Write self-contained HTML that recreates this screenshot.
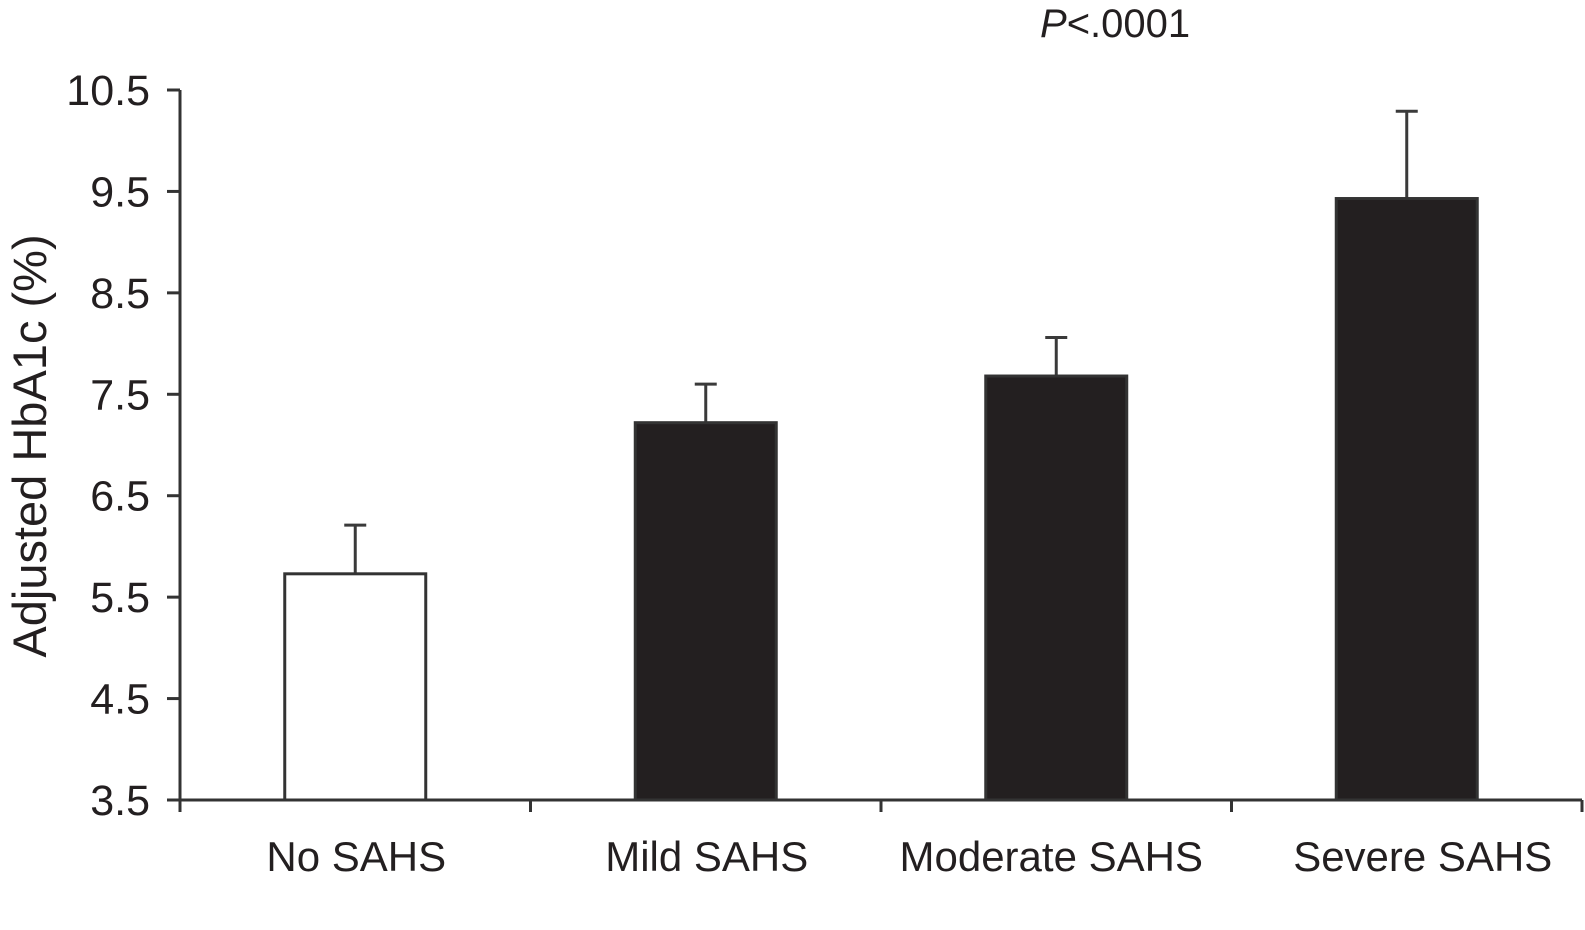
<!DOCTYPE html>
<html><head><meta charset="utf-8"><style>
html,body{margin:0;padding:0;background:#fff;}
svg{display:block;font-family:"Liberation Sans",Arial,sans-serif;}
</style></head><body>
<svg id="chart" width="1585" height="930" viewBox="0 0 1585 930">
<text x="1040" y="37" font-size="40" fill="#231f20"><tspan font-style="italic">P</tspan>&lt;.0001</text>
<text transform="translate(46,446) rotate(-90)" text-anchor="middle" font-size="47" fill="#231f20">Adjusted HbA1c (%)</text>
<g id="plot"></g>
</svg>
<script>
const categories = ["No SAHS", "Mild SAHS", "Moderate SAHS", "Severe SAHS"];
const values = [5.73, 7.22, 7.68, 9.43];
const errors = [0.48, 0.38, 0.38, 0.86];
const fills = ["#ffffff", "#231f20", "#231f20", "#231f20"];
const yTicks = [3.5, 4.5, 5.5, 6.5, 7.5, 8.5, 9.5, 10.5];
const yTickLabels = ["3.5", "4.5", "5.5", "6.5", "7.5", "8.5", "9.5", "10.5"];

const NS = "http://www.w3.org/2000/svg";
const g = document.getElementById("plot");
const x0 = 180, x1 = 1582, yBase = 800, yMin = 3.5, yMax = 10.5, yTop = 90;
const catW = (x1 - x0) / categories.length;
const barW = 141;
const labelNudge = [1, 1, -5, 16];
function yScale(v){ return yBase - (v - yMin) / (yMax - yMin) * (yBase - yTop); }
function xCenter(i){ return x0 + catW * (i + 0.5); }
function mk(tag, attrs){ const e = document.createElementNS(NS, tag); for (const k in attrs) e.setAttribute(k, attrs[k]); g.appendChild(e); return e; }

categories.forEach((c, i) => {
  const cx = xCenter(i), top = yScale(values[i]), et = yScale(values[i] + errors[i]);
  const eb = mk("line", {x1: cx, x2: cx, y1: top, y2: et, stroke: "#3a3a3a", "stroke-width": 3});
  
  
  const cap = mk("line", {x1: cx - 11, x2: cx + 11, y1: et, y2: et, stroke: "#3a3a3a", "stroke-width": 3});
  
  
  const r = mk("rect", {x: cx - barW / 2, y: top, width: barW, height: yBase - top, fill: fills[i], stroke: "#333", "stroke-width": 3});
  
  
  const t = mk("text", {x: cx + labelNudge[i], y: 871, "text-anchor": "middle", "font-size": 42, fill: "#231f20"});
  t.textContent = c;
  
  
});

const ya = mk("line", {x1: x0, x2: x0, y1: yTop, y2: yBase + 12, stroke: "#333", "stroke-width": 3});


const xa = mk("line", {x1: x0 - 13, x2: x1, y1: yBase, y2: yBase, stroke: "#333", "stroke-width": 3});


yTicks.forEach((v, i) => {
  const y = yScale(v);
  const tk = mk("line", {x1: x0 - 13, x2: x0, y1: y, y2: y, stroke: "#333", "stroke-width": 3});
  
  
  const lb = mk("text", {x: 150, y: y + 15, "text-anchor": "end", "font-size": 43, fill: "#231f20"});
  lb.textContent = yTickLabels[i];
  
  
});
for (let i = 0; i <= categories.length; i++) {
  const x = x0 + catW * i;
  const tk = mk("line", {x1: x, x2: x, y1: yBase, y2: yBase + 12, stroke: "#333", "stroke-width": 3});
  
  
}
</script>
</body></html>
